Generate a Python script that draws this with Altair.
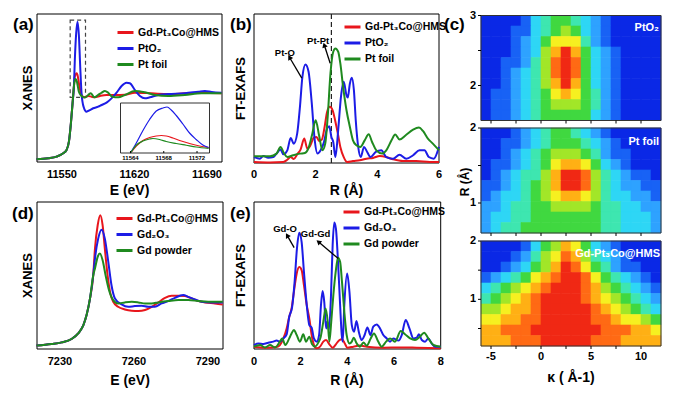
import altair as alt
import pandas as pd

# ------------------------------------------------------------------ data
A_NAMES = ["Gd-Pt₃Co@HMS", "PtO₂", "Pt foil"]
D_NAMES = ["Gd-Pt₃Co@HMS", "Gd₂O₃", "Gd powder"]

# (a) Pt L3-edge XANES  (x: eV, y: normalised 0-100)
A_EDGE_E = [11525.5, 11536.8, 11544.9, 11551.3, 11554.5, 11556.8, 11558.7, 11560.3, 11561.6]
A_EDGE_V = [1.8, 2.5, 3.6, 5.9, 8.1, 13.7, 26.1, 39.6, 50.9]
A_RED_E = [11562.5, 11563.5, 11564.2, 11565.1, 11566.7, 11569.0, 11572.2, 11575.4, 11578.6, 11581.9,
           11586.7, 11593.1, 11601.2, 11610.8, 11620.5, 11636.6, 11652.6, 11668.7, 11684.8, 11704.1]
A_RED_V = [57.7, 59.5, 59.9, 58.8, 52.0, 45.3, 43.7, 44.6, 44.1, 43.7,
           44.6, 45.3, 45.3, 45.5, 46.8, 46.4, 45.9, 46.4, 46.8, 46.4]
A_BLUE_E = [11562.5, 11563.8, 11565.1, 11566.4, 11567.7, 11569.0, 11570.9, 11573.8, 11577.0, 11580.2,
            11585.1, 11588.3, 11593.1, 11597.9, 11602.8, 11607.6, 11612.4, 11615.6, 11620.5, 11625.3,
            11630.1, 11634.9, 11643.0, 11652.6, 11668.7, 11681.6, 11688.0, 11694.5, 11704.1]
A_BLUE_V = [68.9, 86.9, 94.8, 85.8, 64.4, 46.4, 37.4, 34.0, 35.1, 36.3,
            37.4, 38.5, 40.1, 43.0, 46.8, 51.4, 53.6, 53.2, 48.6, 44.6,
            43.0, 43.7, 45.3, 45.9, 46.4, 47.5, 48.0, 47.3, 46.8]
A_GREEN_E = [11562.2, 11563.2, 11564.5, 11566.4, 11569.0, 11572.2, 11575.4, 11578.0, 11581.2, 11585.1,
             11588.3, 11591.5, 11594.7, 11598.6, 11604.4, 11610.8, 11620.5, 11630.1, 11639.8, 11652.6,
             11668.7, 11684.8, 11704.1]
A_GREEN_V = [54.3, 56.1, 54.3, 47.5, 44.6, 43.5, 45.3, 46.4, 43.7, 45.3,
             46.8, 48.0, 46.8, 44.1, 43.7, 45.3, 48.0, 47.1, 45.3, 44.6,
             45.3, 46.4, 46.4]
A_TICKS = [11550, 11620, 11690]
A_XDOM = [11526.0, 11704.5]
A_ZOOM_E = [11558.0, 11572.8]
A_ZOOM_V = [43.7, 95.9]

# inset of (a)
IN_BLUE_E = [11564, 11564.7, 11565.5, 11566.3, 11567.1, 11567.9, 11568.4, 11568.9, 11569.5, 11570.3, 11571.1, 11571.9, 11572.7, 11573.4]
IN_BLUE_V = [0, 0.2, 0.45, 0.67, 0.84, 0.9, 0.92, 0.86, 0.75, 0.58, 0.4, 0.27, 0.16, 0.11]
IN_RED_E = [11564, 11564.7, 11565.5, 11566.3, 11567.1, 11567.7, 11568.3, 11569.1, 11569.9, 11571.1, 11572.3, 11573.4]
IN_RED_V = [0, 0.14, 0.25, 0.31, 0.34, 0.35, 0.34, 0.3, 0.25, 0.19, 0.14, 0.11]
IN_GREEN_E = [11564, 11564.7, 11565.5, 11566.3, 11566.7, 11567.5, 11568.3, 11569.5, 11570.7, 11571.9, 11573.4]
IN_GREEN_V = [0, 0.155, 0.24, 0.28, 0.29, 0.27, 0.23, 0.19, 0.155, 0.12, 0.09]
IN_TICKS = [11564, 11568, 11572]
IN_XDOM = [11562.8, 11573.5]

# (b) Pt FT-EXAFS
B_BLUE_R = [0, 0.19, 0.30, 0.46, 0.63, 0.73, 0.86, 0.95, 1.08, 1.19, 1.29, 1.40, 1.49, 1.57, 1.67, 1.77, 1.87,
            1.97, 2.06, 2.16, 2.27, 2.37, 2.44, 2.51, 2.57, 2.64, 2.73, 2.82, 2.91, 3.00, 3.04, 3.11, 3.17,
            3.24, 3.30, 3.38, 3.46, 3.57, 3.67, 3.78, 3.95, 4.13, 4.29, 4.51, 4.72, 4.94, 5.16, 5.37, 5.53,
            5.67, 5.83, 6.0]
B_BLUE_V = [4.0, 2.9, 4.7, 3.6, 4.0, 6.3, 9.0, 5.8, 8.5, 16.8, 13.0, 19.7, 37.7, 57.8, 66.1, 61.2, 41.0,
            15.2, 6.3, 8.5, 14.1, 23.1, 24.7, 17.5, 14.1, 4.0, 22.0, 44.4, 54.5, 45.5, 43.9, 53.4, 57.2,
            48.9, 28.7, 10.8, 4.0, 10.8, 7.4, 4.0, 7.4, 8.5, 4.0, 2.9, 5.6, 2.9, 5.2, 8.5, 8.5,
            4.0, 2.9, 10.8]
B_RED_R = [0, 0.52, 0.95, 1.08, 1.19, 1.29, 1.40, 1.51, 1.63, 1.73, 1.83, 1.94, 2.03, 2.11, 2.20, 2.29,
           2.37, 2.46, 2.55, 2.63, 2.72, 2.80, 2.91, 3.02, 3.21, 3.43, 3.65, 3.86, 4.08, 4.29, 4.51, 4.83,
           5.26, 5.70, 6.0]
B_RED_V = [0.7, 0.4, 0.7, 2.2, 4.0, 2.7, 5.8, 9.0, 16.4, 9.6, 11.9, 17.0, 17.5, 14.8, 15.7, 24.2,
           34.3, 37.7, 35.4, 28.7, 19.7, 10.8, 4.0, 0.7, 1.3, 1.8, 2.9, 3.4, 4.7, 4.0, 2.5, 1.3,
           1.3, 0.7, 0.7]
B_GREEN_R = [0, 0.52, 0.73, 0.86, 0.97, 1.08, 1.27, 1.49, 1.65, 1.76, 1.88, 2.00, 2.11, 2.22, 2.31, 2.39,
             2.48, 2.57, 2.64, 2.73, 2.80, 2.89, 3.00, 3.11, 3.21, 3.32, 3.45, 3.59, 3.72, 3.83, 3.97,
             4.16, 4.29, 4.46, 4.58, 4.72, 4.92, 5.16, 5.35, 5.48, 5.64, 5.80, 6.0]
B_GREEN_V = [4.5, 4.5, 6.3, 10.8, 6.7, 4.0, 5.2, 6.3, 6.7, 9.6, 18.6, 28.7, 18.6, 8.5, 13.0, 30.9,
             60.1, 74.7, 76.9, 74.7, 66.8, 51.1, 35.4, 24.2, 15.2, 11.9, 10.8, 15.2, 19.3, 14.1, 8.5,
             6.3, 8.5, 15.2, 19.1, 15.7, 18.6, 22.4, 23.8, 21.5, 16.4, 13.0, 8.5]
B_TICKS = [0, 2, 4, 6]
B_XDOM = [0, 6]
B_DASH_R = 2.51
B_NOTES = ["Pt-O", "Pt-Pt"]
B_NOTE_R = [1.0, 2.08]
B_NOTE_V = [73.5, 82.0]
B_ARROW_FROM = [(1.55, 57.0), (2.47, 66.9)]
B_ARROW_TO = [(1.15, 71.0), (2.28, 79.2)]

# (d) Gd L3-edge XANES
D_EDGE_E = [7220.5, 7226.6, 7230.7, 7234.7, 7237.4, 7239.5, 7240.8, 7242.2, 7243.5]
D_EDGE_V = [2.3, 3.4, 4.5, 6.8, 10.6, 16.3, 23.1, 34.4, 50.2]
D_RED_E = [7244.2, 7245.3, 7246.35, 7247.3, 7248.2, 7249.3, 7250.3, 7251.6, 7253.6, 7256.3, 7259.1, 7261.8,
           7264.5, 7267.2, 7269.9, 7272.6, 7275.3, 7278.0, 7280.7, 7283.4, 7286.1, 7288.8, 7292.8, 7296.0]
D_RED_V = [68.3, 84.2, 91.0, 84.2, 68.3, 50.2, 38.9, 32.1, 28.7, 26.9, 26.0, 25.8,
           26.5, 28.7, 31.7, 34.8, 36.2, 36.2, 36.0, 34.4, 32.6, 31.7, 31.0, 30.3]
D_BLUE_E = [7244.2, 7245.5, 7246.9, 7248.2, 7249.6, 7250.9, 7252.3, 7255.0, 7257.7, 7260.4, 7263.1,
            7265.8, 7268.5, 7271.2, 7273.9, 7276.6, 7280.0, 7282.0, 7284.7, 7287.4, 7291.5, 7296.0]
D_BLUE_V = [61.5, 75.1, 81.2, 75.1, 59.3, 43.4, 34.4, 30.3, 28.7, 29.2, 29.4,
            28.7, 28.7, 31.0, 32.6, 34.8, 36.7, 35.5, 33.7, 32.1, 31.7, 31.7]
D_GREEN_E = [7244.2, 7245.3, 7246.2, 7247.3, 7248.5, 7249.9, 7251.6, 7253.6, 7256.3, 7259.1,
             7261.8, 7264.5, 7267.2, 7269.9, 7273.9, 7278.0, 7282.0, 7286.1, 7290.1, 7296.0]
D_GREEN_V = [54.8, 62.7, 64.9, 60.4, 50.2, 40.0, 33.3, 31.0, 31.7, 32.1,
             31.7, 31.0, 31.0, 31.7, 32.6, 33.3, 33.3, 32.6, 32.1, 32.1]
D_TICKS = [7230, 7260, 7290]
D_XDOM = [7220.7, 7296.1]

# (e) Gd FT-EXAFS
E_BLUE_R = [0, 0.19, 0.40, 0.61, 0.83, 0.97, 1.11, 1.26, 1.40, 1.51, 1.63, 1.74, 1.84, 1.94, 2.04, 2.14,
            2.26, 2.37, 2.47, 2.57, 2.69, 2.79, 2.87, 2.94, 3.01, 3.09, 3.14, 3.21, 3.30, 3.37, 3.44,
            3.51, 3.60, 3.69, 3.76, 3.80, 3.87, 3.99, 4.09, 4.19, 4.29, 4.39, 4.49, 4.61, 4.74, 4.86,
            4.99, 5.11, 5.26, 5.40, 5.54, 5.69, 5.83, 5.97, 6.19, 6.33, 6.50, 6.66, 6.83, 6.97, 7.07,
            7.19, 7.33, 7.47, 7.61, 7.76, 8.0]
E_BLUE_V = [2.7, 3.8, 3.4, 4.3, 5.0, 5.7, 5.0, 7.2, 10.0, 21.9, 28.1, 45.7, 68.3, 79.0, 72.9, 52.5,
            29.9, 16.3, 14.5, 7.2, 5.0, 9.5, 29.9, 39.4, 32.1, 14.0, 18.6, 12.9, 36.7, 70.6, 86.0,
            81.9, 59.3, 29.9, 9.5, 5.0, 29.9, 51.4, 38.9, 16.3, 11.8, 19.0, 11.8, 6.1, 9.5, 14.7,
            9.5, 15.2, 16.7, 14.0, 9.5, 7.2, 5.0, 7.2, 5.7, 9.5, 19.7, 14.0, 7.2, 7.7, 10.0,
            6.1, 5.0, 7.2, 3.8, 1.6, 1.6]
E_RED_R = [0, 0.54, 0.97, 1.11, 1.26, 1.40, 1.51, 1.61, 1.71, 1.83, 1.94, 2.04, 2.14, 2.26, 2.37, 2.47,
           2.57, 2.69, 2.83, 2.97, 3.09, 3.23, 3.37, 3.51, 3.66, 3.77, 3.89, 4.00, 4.26, 4.54, 4.83,
           5.54, 6.26, 6.97, 8.0]
E_RED_V = [1.6, 0.9, 1.4, 2.7, 7.2, 14.0, 21.9, 27.6, 38.9, 51.4, 55.7, 53.6, 43.4, 29.9, 20.8, 9.5,
           2.7, 0.5, 1.6, 5.0, 6.1, 3.2, 0.9, 3.2, 6.1, 6.6, 3.8, 0.9, 1.6, 2.3, 1.6,
           0.9, 1.1, 0.9, 0.5]
E_GREEN_R = [0, 0.26, 0.47, 0.69, 0.90, 1.11, 1.21, 1.34, 1.51, 1.61, 1.71, 1.83, 1.97, 2.11, 2.23, 2.37,
             2.49, 2.61, 2.76, 2.86, 2.97, 3.07, 3.16, 3.23, 3.31, 3.40, 3.50, 3.60, 3.69, 3.77, 3.87,
             3.97, 4.09, 4.19, 4.27, 4.40, 4.54, 4.69, 4.83, 5.00, 5.14, 5.31, 5.47, 5.66, 5.83, 6.04,
             6.29, 6.47, 6.69, 6.90, 7.11, 7.29, 7.47, 7.69, 8.0]
E_GREEN_V = [1.6, 2.7, 1.1, 2.7, 1.1, 5.0, 7.2, 2.7, 7.2, 10.6, 12.9, 9.5, 5.0, 10.0, 5.0, 8.4,
             3.2, 1.6, 4.5, 8.4, 18.6, 27.6, 18.6, 5.0, 18.6, 36.7, 52.5, 62.0, 59.3, 45.7, 25.3,
             9.5, 3.8, 5.0, 7.7, 3.8, 1.6, 4.5, 2.3, 7.2, 10.6, 5.4, 1.6, 5.0, 7.2, 5.0,
             12.2, 10.0, 7.2, 6.1, 8.4, 11.1, 7.2, 2.7, 1.6]
E_TICKS = [0, 2, 4, 6, 8]
E_XDOM = [0, 8]
E_NOTES = ["Gd-O", "Gd-Gd"]
E_NOTE_R = [1.33, 2.64]
E_NOTE_V = [81.9, 78.0]
E_ARROW_FROM = [(1.72, 69.0), (3.61, 61.5)]
E_ARROW_TO = [(1.42, 77.3), (2.76, 72.9)]

# (c) WT-EXAFS maps: intensity 0-10 on a kappa grid of 1 A^-1 columns, rows listed top -> bottom
K_EDGES = [-6, -5, -4, -3, -2, -1, 0, 1, 2, 3, 4, 5, 6, 7, 8, 9, 10, 11, 12]
K_TICKS = [-5, -2.5, 0, 2.5, 5, 7.5, 10]
K_LABELS = [-5, 0, 5, 10]
MAP_PTO2 = [
    [0, 0, 0, 0, 1, 3, 4, 5, 5, 4, 3, 2, 1, 0, 0, 0, 0, 0],
    [0, 0, 0, 1, 1, 3, 4, 5, 6, 5, 3, 2, 1, 0, 0, 0, 0, 0],
    [0, 0, 0, 1, 2, 3, 5, 7, 7, 7, 4, 2, 1, 0, 0, 0, 0, 0],
    [0, 0, 0, 1, 2, 3, 6, 8, 10, 8, 5, 3, 2, 1, 0, 0, 0, 0],
    [0, 0, 1, 1, 2, 4, 6, 9, 10, 9, 5, 3, 2, 1, 0, 0, 0, 0],
    [0, 0, 1, 2, 3, 4, 6, 9, 10, 9, 5, 3, 2, 1, 0, 0, 0, 0],
    [0, 0, 1, 2, 3, 4, 6, 8, 10, 8, 5, 3, 2, 1, 0, 0, 0, 0],
    [0, 1, 1, 2, 3, 4, 5, 7, 8, 7, 5, 4, 2, 1, 0, 0, 0, 0],
    [0, 1, 1, 2, 3, 4, 5, 6, 6, 6, 5, 4, 2, 1, 0, 0, 0, 0],
    [0, 1, 1, 2, 3, 4, 5, 5, 5, 5, 5, 3, 2, 1, 0, 0, 0, 0],
]
MAP_PTFOIL = [
    [0, 0, 0, 1, 2, 3, 4, 5, 5, 4, 3, 2, 1, 0, 0, 0, 0, 0],
    [0, 0, 1, 1, 2, 3, 4, 5, 5, 5, 4, 3, 2, 1, 0, 0, 0, 0],
    [0, 0, 1, 2, 3, 4, 5, 6, 6, 6, 5, 4, 2, 1, 1, 0, 0, 0],
    [0, 1, 1, 2, 3, 4, 5, 7, 8, 8, 7, 5, 3, 2, 1, 0, 0, 0],
    [0, 1, 2, 3, 4, 4, 6, 8, 10, 10, 9, 6, 4, 3, 2, 1, 1, 0],
    [1, 1, 2, 3, 4, 5, 6, 8, 10, 10, 9, 6, 4, 3, 2, 2, 1, 1],
    [1, 2, 3, 3, 4, 5, 6, 7, 8, 8, 7, 6, 4, 3, 3, 2, 2, 1],
    [2, 2, 3, 4, 4, 5, 5, 6, 6, 6, 6, 5, 4, 4, 3, 3, 2, 2],
    [2, 3, 3, 4, 4, 5, 5, 5, 5, 5, 5, 5, 4, 4, 3, 3, 3, 2],
    [2, 3, 4, 4, 5, 5, 5, 5, 5, 5, 5, 5, 4, 4, 3, 3, 3, 2],
]
MAP_GDPT = [
    [0, 0, 0, 0, 1, 3, 5, 6, 8, 7, 5, 3, 2, 1, 0, 0, 0, 0],
    [0, 0, 0, 1, 2, 4, 6, 7, 9, 8, 6, 4, 3, 2, 1, 0, 0, 0],
    [0, 0, 1, 2, 3, 5, 6, 8, 10, 9, 7, 5, 4, 2, 1, 1, 0, 0],
    [1, 2, 3, 4, 5, 7, 8, 9, 10, 10, 9, 7, 5, 4, 3, 2, 1, 0],
    [3, 4, 5, 6, 7, 8, 9, 10, 10, 10, 9, 8, 6, 5, 4, 3, 2, 1],
    [4, 5, 6, 7, 8, 9, 10, 10, 10, 10, 9, 8, 7, 6, 5, 4, 3, 2],
    [6, 6, 7, 8, 8, 9, 10, 10, 10, 10, 10, 9, 8, 7, 6, 5, 4, 3],
    [7, 7, 8, 8, 9, 9, 10, 10, 10, 10, 10, 9, 9, 8, 7, 7, 6, 5],
    [8, 8, 9, 9, 9, 10, 10, 10, 10, 10, 10, 10, 9, 9, 9, 8, 8, 7],
    [8, 8, 8, 9, 9, 9, 10, 10, 10, 10, 10, 9, 9, 9, 8, 8, 8, 8],
]
MAP_RDOMS = [[1.5, 3.0], [0.6, 2.0], [0.2, 2.0]]
MAP_RTICKS = [[2, 2.5, 3], [1, 1.5, 2], [0.5, 1, 1.5, 2]]
MAP_RLABELS = [[2, 3], [1, 2], [1, 2]]
MAP_NAMES = ["PtO₂", "Pt foil", "Gd-Pt₃Co@HMS"]

# ------------------------------------------------------------------ layout / style
FONT = "Liberation Sans"
W, H = 662, 380
OX, OY = 8, 8
RED, BLUE, GREEN = "#e8161c", "#1c1ce6", "#1f8a1f"
HEAT_COLORS = ["#0a28e6", "#1862f5", "#2ea2ff", "#2ed6f5", "#3ee6b0", "#40d840",
               "#a2e628", "#f6f020", "#ffb014", "#ff6a14", "#f02814"]

# page-pixel boxes: left, right, top, bottom
A_BOX = (37, 222, 14, 162)
IN_BOX = (120.5, 209.5, 103, 153)
B_BOX = (254, 439, 14, 163)
D_BOX = (37, 223, 202, 349)
E_BOX = (254, 440.7, 202, 349)
C_BOXES = [(481, 661, 15.5, 120.5), (481, 661, 128, 233), (481, 661, 241, 346)]
YDOM = [0, 100]


def px(x):
    return x - OX


def py(y):
    return y - OY


def xscale(dom, box):
    return alt.Scale(domain=dom, range=[px(box[0]), px(box[1])], nice=False, zero=False)


def yscale(dom, box):
    return alt.Scale(domain=dom, range=[py(box[3]), py(box[2])], nice=False, zero=False)


def legend(x, y):
    return alt.Legend(orient="none", legendX=px(x), legendY=py(y), title=None, symbolType="stroke",
                      symbolSize=256, symbolStrokeWidth=3, labelFont=FONT, labelFontSize=10.5,
                      labelFontWeight="bold", labelColor="black", labelOffset=3, rowPadding=0,
                      padding=0)


def line_layer(series, names, xs, ys, leg, width=2.0):
    rows = []
    for name, xv, yv in series:
        for i, (x, y) in enumerate(zip(xv, yv)):
            rows.append({"series": name, "x": x, "y": y, "i": i})
    return alt.Chart(pd.DataFrame(rows)).mark_line(strokeWidth=width, interpolate="monotone").encode(
        x=alt.X("x:Q", scale=xs, axis=None),
        y=alt.Y("y:Q", scale=ys, axis=None),
        color=alt.Color("series:N", scale=alt.Scale(domain=names, range=[RED, BLUE, GREEN]), legend=leg),
        order=alt.Order("i:Q"),
    )


def frame(xdom, ydom, xs, ys, color="black", width=1.0, dash=None):
    df = pd.DataFrame({"x0": [xdom[0]], "x1": [xdom[1]], "y0": [ydom[0]], "y1": [ydom[1]]})
    kw = dict(fillOpacity=0, stroke=color, strokeWidth=width)
    if dash:
        kw["strokeDash"] = dash
    return alt.Chart(df).mark_rect(**kw).encode(
        x=alt.X("x0:Q", scale=xs, axis=None), x2="x1:Q",
        y=alt.Y("y0:Q", scale=ys, axis=None), y2="y1:Q")


def x_labels(values, xs, ycenter, size=11):
    df = pd.DataFrame({"v": values, "t": [f"{v:g}" for v in values]})
    return alt.Chart(df).mark_text(font=FONT, fontSize=size, fontWeight="bold", color="black",
                                   baseline="middle", align="center").encode(
        x=alt.X("v:Q", scale=xs, axis=None), y=alt.value(py(ycenter)), text="t:N")


def y_labels(values, ys, xright, size=11):
    df = pd.DataFrame({"v": values, "t": [f"{v:g}" for v in values]})
    return alt.Chart(df).mark_text(font=FONT, fontSize=size, fontWeight="bold", color="black",
                                   baseline="middle", align="right").encode(
        y=alt.Y("v:Q", scale=ys, axis=None), x=alt.value(px(xright)), text="t:N")


def x_ticks(values, xs, y0, y1):
    return alt.Chart(pd.DataFrame({"v": values})).mark_rule(color="black", strokeWidth=1).encode(
        x=alt.X("v:Q", scale=xs, axis=None), y=alt.value(py(y0)), y2=alt.value(py(y1)))


def y_ticks(values, ys, x0, x1):
    return alt.Chart(pd.DataFrame({"v": values})).mark_rule(color="black", strokeWidth=1).encode(
        y=alt.Y("v:Q", scale=ys, axis=None), x=alt.value(px(x0)), x2=alt.value(px(x1)))


def notes(texts, rs, vs, xs, ys):
    df = pd.DataFrame({"t": texts, "x": rs, "y": vs})
    return alt.Chart(df).mark_text(font=FONT, fontSize=9.5, fontWeight="bold", color="black").encode(
        x=alt.X("x:Q", scale=xs, axis=None), y=alt.Y("y:Q", scale=ys, axis=None), text="t:N")


def arrows(froms, tos, xs, ys):
    df = pd.DataFrame({"x": [f[0] for f in froms], "y": [f[1] for f in froms],
                       "x2": [t[0] for t in tos], "y2": [t[1] for t in tos]})
    return alt.Chart(df).mark_rule(color="black", strokeWidth=1.3).encode(
        x=alt.X("x:Q", scale=xs, axis=None), y=alt.Y("y:Q", scale=ys, axis=None), x2="x2:Q", y2="y2:Q")


def head(pt, angle, xs, ys):
    df = pd.DataFrame({"x": [pt[0]], "y": [pt[1]]})
    return alt.Chart(df).mark_point(shape="triangle-up", filled=True, size=32, color="black",
                                    opacity=1, angle=angle).encode(
        x=alt.X("x:Q", scale=xs, axis=None), y=alt.Y("y:Q", scale=ys, axis=None))


def text_at(t, x, y, size=17, color="black", align="left", baseline="alphabetic", angle=0):
    return alt.Chart(pd.DataFrame({"t": [t]})).mark_text(
        font=FONT, fontSize=size, fontWeight="bold", color=color, align=align, baseline=baseline,
        angle=angle).encode(x=alt.value(px(x)), y=alt.value(py(y)), text="t:N")


def vtitle(t, x, y, size=13):
    return text_at(t, x, y, size=size, align="center", baseline="middle", angle=270)


def htitle(t, x, y, size=14):
    return text_at(t, x, y, size=size, align="center", baseline="middle")


# ------------------------------------------------------------------ panel (a)
xa, ya = xscale(A_XDOM, A_BOX), yscale(YDOM, A_BOX)
panel_a = alt.layer(
    frame(A_XDOM, YDOM, xa, ya),
    frame(A_ZOOM_E, A_ZOOM_V, xa, ya, color="#444", width=1.2, dash=[4, 3]),
    line_layer([(A_NAMES[0], A_EDGE_E + A_RED_E, A_EDGE_V + A_RED_V),
                (A_NAMES[1], A_EDGE_E + A_BLUE_E, A_EDGE_V + A_BLUE_V),
                (A_NAMES[2], A_EDGE_E + A_GREEN_E, A_EDGE_V + A_GREEN_V)],
               A_NAMES, xa, ya, legend(116, 23)),
    x_labels(A_TICKS, xa, 175),
)

xi, yi = xscale(IN_XDOM, IN_BOX), yscale([0, 1], IN_BOX)
inset = alt.layer(
    frame(IN_XDOM, [0, 1], xi, yi, color="#333", width=1),
    line_layer([(A_NAMES[0], IN_RED_E, IN_RED_V),
                (A_NAMES[1], IN_BLUE_E, IN_BLUE_V),
                (A_NAMES[2], IN_GREEN_E, IN_GREEN_V)],
               A_NAMES, xi, yi, None, width=1.2),
    x_ticks(IN_TICKS, xi, IN_BOX[3], IN_BOX[3] - 2),
    x_labels(IN_TICKS, xi, IN_BOX[3] + 4.5, size=6),
)

# ------------------------------------------------------------------ panel (b)
xb, yb = xscale(B_XDOM, B_BOX), yscale(YDOM, B_BOX)
dash_b = alt.Chart(pd.DataFrame({"r": [B_DASH_R], "y0": [YDOM[0]], "y1": [YDOM[1]]})).mark_rule(
    color="#222", strokeWidth=1.2, strokeDash=[5, 3]).encode(
    x=alt.X("r:Q", scale=xb, axis=None), y=alt.Y("y0:Q", scale=yb, axis=None), y2="y1:Q")
panel_b = alt.layer(
    frame(B_XDOM, YDOM, xb, yb),
    dash_b,
    line_layer([(A_NAMES[0], B_RED_R, B_RED_V),
                (A_NAMES[1], B_BLUE_R, B_BLUE_V),
                (A_NAMES[2], B_GREEN_R, B_GREEN_V)],
               A_NAMES, xb, yb, legend(343, 17.5)),
    arrows(B_ARROW_FROM, B_ARROW_TO, xb, yb),
    head(B_ARROW_TO[0], 330, xb, yb),
    head(B_ARROW_TO[1], 342, xb, yb),
    notes(B_NOTES, B_NOTE_R, B_NOTE_V, xb, yb),
    x_labels(B_TICKS, xb, 175),
)

# ------------------------------------------------------------------ panel (d)
xd, yd = xscale(D_XDOM, D_BOX), yscale(YDOM, D_BOX)
panel_d = alt.layer(
    frame(D_XDOM, YDOM, xd, yd),
    line_layer([(D_NAMES[0], D_EDGE_E + D_RED_E, D_EDGE_V + D_RED_V),
                (D_NAMES[1], D_EDGE_E + D_BLUE_E, D_EDGE_V + D_BLUE_V),
                (D_NAMES[2], D_EDGE_E + D_GREEN_E, D_EDGE_V + D_GREEN_V)],
               D_NAMES, xd, yd, legend(115, 209)),
    x_labels(D_TICKS, xd, 362),
)

# ------------------------------------------------------------------ panel (e)
xe, ye = xscale(E_XDOM, E_BOX), yscale(YDOM, E_BOX)
panel_e = alt.layer(
    frame(E_XDOM, YDOM, xe, ye),
    line_layer([(D_NAMES[0], E_RED_R, E_RED_V),
                (D_NAMES[1], E_BLUE_R, E_BLUE_V),
                (D_NAMES[2], E_GREEN_R, E_GREEN_V)],
               D_NAMES, xe, ye, legend(342, 202.5)),
    arrows(E_ARROW_FROM, E_ARROW_TO, xe, ye),
    head(E_ARROW_TO[0], 330, xe, ye),
    head(E_ARROW_TO[1], 310, xe, ye),
    notes(E_NOTES, E_NOTE_R, E_NOTE_V, xe, ye),
    x_labels(E_TICKS, xe, 362),
)

# ------------------------------------------------------------------ panel (c)
HEAT_SCALE = alt.Scale(domain=list(range(11)), range=HEAT_COLORS, interpolate="rgb")


def heat_panel(grid, rdom, box, rticks, rlabels, last):
    nrow = len(grid)
    step = (rdom[1] - rdom[0]) / nrow
    recs = []
    for j, row in enumerate(grid):
        r1 = rdom[1] - j * step
        for i, val in enumerate(row):
            recs.append({"k0": K_EDGES[i], "k1": K_EDGES[i + 1], "r0": r1 - step, "r1": r1, "v": val})
    kdom = [K_EDGES[0], K_EDGES[-1]]
    xs, ys = xscale(kdom, box), yscale(rdom, box)
    cells = alt.Chart(pd.DataFrame(recs)).mark_rect(strokeWidth=0.6).encode(
        x=alt.X("k0:Q", scale=xs, axis=None), x2="k1:Q",
        y=alt.Y("r0:Q", scale=ys, axis=None), y2="r1:Q",
        color=alt.Color("v:Q", scale=HEAT_SCALE, legend=None),
        stroke=alt.Stroke("v:Q", scale=HEAT_SCALE, legend=None),
    )
    parts = [cells, frame(kdom, rdom, xs, ys, color="#333", width=1),
             x_ticks(K_TICKS, xs, box[3], box[3] + 3),
             y_ticks(rticks, ys, box[0] - 3, box[0]),
             y_labels(rlabels, ys, box[0] - 5)]
    if last:
        parts.append(x_labels(K_LABELS, xs, box[3] + 11))
    return alt.layer(*parts)


heat1 = heat_panel(MAP_PTO2, MAP_RDOMS[0], C_BOXES[0], MAP_RTICKS[0], MAP_RLABELS[0], False)
heat2 = heat_panel(MAP_PTFOIL, MAP_RDOMS[1], C_BOXES[1], MAP_RTICKS[1], MAP_RLABELS[1], False)
heat3 = heat_panel(MAP_GDPT, MAP_RDOMS[2], C_BOXES[2], MAP_RTICKS[2], MAP_RLABELS[2], True)

# ------------------------------------------------------------------ labels / titles
labels = [
    text_at("(a)", 13, 30), text_at("(b)", 230, 30), text_at("(c)", 444, 30),
    text_at("(d)", 12, 219), text_at("(e)", 230, 219),
    text_at(MAP_NAMES[0], 659, 30.5, size=11, color="white", align="right"),
    text_at(MAP_NAMES[1], 659, 144.5, size=11, color="white", align="right"),
    text_at(MAP_NAMES[2], 660, 256.5, size=11, color="white", align="right"),
    vtitle("XANES", 28, 88), vtitle("XANES", 28, 275.5),
    vtitle("FT-EXAFS", 241, 88.5), vtitle("FT-EXAFS", 241, 275.5),
    vtitle("R (Å)", 465, 182, size=12),
    htitle("E (eV)", 129.5, 191), htitle("R (Å)", 346.5, 191),
    htitle("E (eV)", 130, 381), htitle("R (Å)", 347, 381),
    htitle("κ ( Å-1)", 571, 378),
]

chart = alt.layer(panel_a, inset, panel_b, panel_d, panel_e, heat1, heat2, heat3, *labels).resolve_scale(
    x="independent", y="independent", color="independent", stroke="independent"
).properties(
    width=W, height=H, padding=0, autosize=alt.AutoSizeParams(type="none"),
    background="white",
).configure_view(stroke="transparent")

chart.save("out.html", embed_options={"renderer": "svg", "actions": False})
